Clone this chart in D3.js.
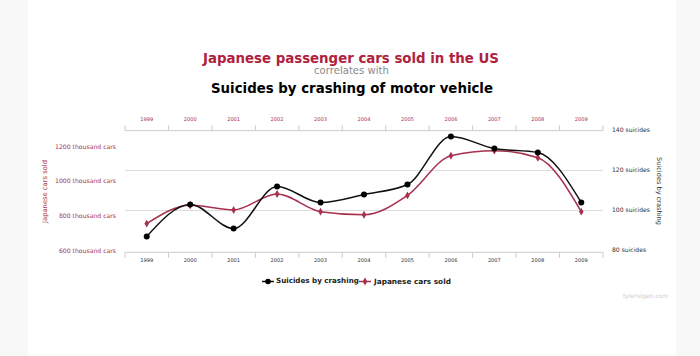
<!DOCTYPE html>
<html><head><meta charset="utf-8">
<script src="https://cdn.jsdelivr.net/npm/d3@7"></script>
<style>html,body{margin:0;padding:0;background:#f8f8f8;}svg{display:block;}</style>
</head><body>
<svg id="c" width="700" height="356"></svg>
<script>
const years = ["1999","2000","2001","2002","2003","2004","2005","2006","2007","2008","2009"];
const suicides = [87,103,91,112,104,108,113,137,131,129,104];
const carsSold = [758,864,837,929,827,809,921,1150,1179,1138,827];
const leftTicks = [600,800,1000,1200];
const rightTicks = [80,100,120,140];
const gridTicks = [100,120];

const RED = "#a8304c", TITLE_RED = "#b0213d";
const FONT = "DejaVu Sans, Verdana, sans-serif";
const svg = d3.select("#c");
svg.append("rect").attr("x",28).attr("y",0).attr("width",648).attr("height",356).attr("fill","#fff");

function fit(sel, w){
  const n = sel.node(); const cur = n.getComputedTextLength();
  const fs = parseFloat(sel.attr("font-size"));
  const nf = fs*w/cur; sel.attr("font-size", nf); return nf;
}

const x = d3.scaleBand().domain(years).range([125,603]);
const yL = d3.scaleLinear().domain([600,1300]).range([251,129.7]);
const yR = d3.scaleLinear().domain([80,140]).range([250.5,130.5]);

// titles
const t1 = svg.append("text").attr("x",351).attr("y",63).attr("text-anchor","middle")
  .attr("font-family",FONT).attr("font-weight","bold").attr("font-size",16).attr("fill",TITLE_RED)
  .text("Japanese passenger cars sold in the US");
fit(t1,296);
const t2 = svg.append("text").attr("x",351.5).attr("y",74.3).attr("text-anchor","middle")
  .attr("font-family",FONT).attr("font-size",10).attr("fill","#8a8a8a").text("correlates with");
fit(t2,75);
const t3 = svg.append("text").attr("x",352).attr("y",93.3).attr("text-anchor","middle")
  .attr("font-family",FONT).attr("font-weight","bold").attr("font-size",16).attr("fill","#000")
  .text("Suicides by crashing of motor vehicle");
fit(t3,282);

// gridlines
svg.append("g").selectAll("line").data(gridTicks).join("line")
  .attr("x1",x.range()[0]).attr("x2",x.range()[1])
  .attr("y1",d=>yR(d)).attr("y2",d=>yR(d)).attr("stroke","#ddd").attr("stroke-width",1);

// x axes
const bounds = years.map(y=>x(y)).concat([x.range()[1]]);
function xAxis(yLine, dir, labelY, color){
  const g = svg.append("g");
  g.append("line").attr("x1",x.range()[0]).attr("x2",x.range()[1]).attr("y1",yLine).attr("y2",yLine)
    .attr("stroke","#ccc");
  g.selectAll("line.t").data(bounds).join("line").attr("class","t")
    .attr("x1",d=>d).attr("x2",d=>d).attr("y1",yLine).attr("y2",yLine+dir*5.5).attr("stroke","#ccc");
  const lab = g.selectAll("text").data(years).join("text")
    .attr("x",d=>x(d)+x.bandwidth()/2).attr("y",labelY).attr("text-anchor","middle")
    .attr("dominant-baseline","middle")
    .attr("font-family",FONT).attr("font-size",6).attr("fill",color).text(d=>d);
  const fs = fit(d3.select(lab.nodes()[0]),13);
  lab.attr("font-size",fs);
}
xAxis(130.7,-1,119.5,RED);
xAxis(252.3,1,261,"#333");

// left axis labels
const ll = svg.append("g").selectAll("text").data(leftTicks).join("text")
  .attr("x",116).attr("y",d=>yL(d)).attr("text-anchor","end").attr("dominant-baseline","middle")
  .attr("font-family",FONT).attr("font-size",6).attr("fill",RED).text(d=>d+" thousand cars");
{ const fs = fit(d3.select(ll.nodes()[3]),61); ll.attr("font-size",fs); }
// right axis labels
const rl = svg.append("g").selectAll("text").data(rightTicks).join("text")
  .attr("x",612).attr("y",d=>yR(d)).attr("dominant-baseline","middle")
  .attr("font-family",FONT).attr("font-size",6).attr("fill","#333").text(d=>d+" suicides");
{ const fs = fit(d3.select(rl.nodes()[3]),38); rl.attr("font-size",fs); }

// axis titles
const at1 = svg.append("text").attr("transform","translate(45,191.5) rotate(-90)").attr("text-anchor","middle")
  .attr("dominant-baseline","middle").attr("font-family",FONT).attr("font-size",6).attr("fill",RED)
  .text("Japanese cars sold");
fit(at1,63);
const at2 = svg.append("text").attr("transform","translate(659,191) rotate(90)").attr("text-anchor","middle")
  .attr("dominant-baseline","middle").attr("font-family",FONT).attr("font-size",6).attr("fill","#333")
  .text("Suicides by crashing");
fit(at2,68);

// lines
const cx = d => x(d)+x.bandwidth()/2;
const lineR = d3.line().x((d,i)=>cx(years[i])).y(d=>yL(d)).curve(d3.curveMonotoneX);
const lineB = d3.line().x((d,i)=>cx(years[i])).y(d=>yR(d)).curve(d3.curveMonotoneX);
svg.append("path").attr("d",lineR(carsSold)).attr("fill","none").attr("stroke",RED).attr("stroke-width",1.5);
svg.append("path").attr("d",lineB(suicides)).attr("fill","none").attr("stroke","#111").attr("stroke-width",1.5);
const diamond = d3.symbol().type(d3.symbolDiamond).size(18);
svg.append("g").selectAll("path").data(carsSold).join("path")
  .attr("transform",(d,i)=>`translate(${cx(years[i])},${yL(d)})`).attr("d",diamond()).attr("fill",RED);
svg.append("g").selectAll("circle").data(suicides).join("circle")
  .attr("cx",(d,i)=>cx(years[i])).attr("cy",d=>yR(d)).attr("r",3).attr("fill","#000");

// legend
const lg = svg.append("g");
lg.append("line").attr("x1",262).attr("x2",274).attr("y1",281.5).attr("y2",281.5).attr("stroke","#111").attr("stroke-width",1.5);
lg.append("circle").attr("cx",268).attr("cy",281.5).attr("r",2.8).attr("fill","#000");
const lt1 = lg.append("text").attr("x",276).attr("y",281.5).attr("dominant-baseline","middle")
  .attr("font-family",FONT).attr("font-weight","bold").attr("font-size",7).attr("fill","#222").text("Suicides by crashing");
fit(lt1,83);
lg.append("line").attr("x1",359).attr("x2",371).attr("y1",281.5).attr("y2",281.5).attr("stroke",RED).attr("stroke-width",1.5);
lg.append("path").attr("transform","translate(365,281.5)").attr("d",diamond()).attr("fill",RED);
const lt2 = lg.append("text").attr("x",374).attr("y",281.5).attr("dominant-baseline","middle")
  .attr("font-family",FONT).attr("font-weight","bold").attr("font-size",7).attr("fill","#222").text("Japanese cars sold");
fit(lt2,77);

// watermark
const wm = svg.append("text").attr("x",668).attr("y",296).attr("text-anchor","end").attr("dominant-baseline","middle")
  .attr("font-family",FONT).attr("font-size",5).attr("fill","#ccc").text("tylervigen.com");
fit(wm,45);
</script>
</body></html>
